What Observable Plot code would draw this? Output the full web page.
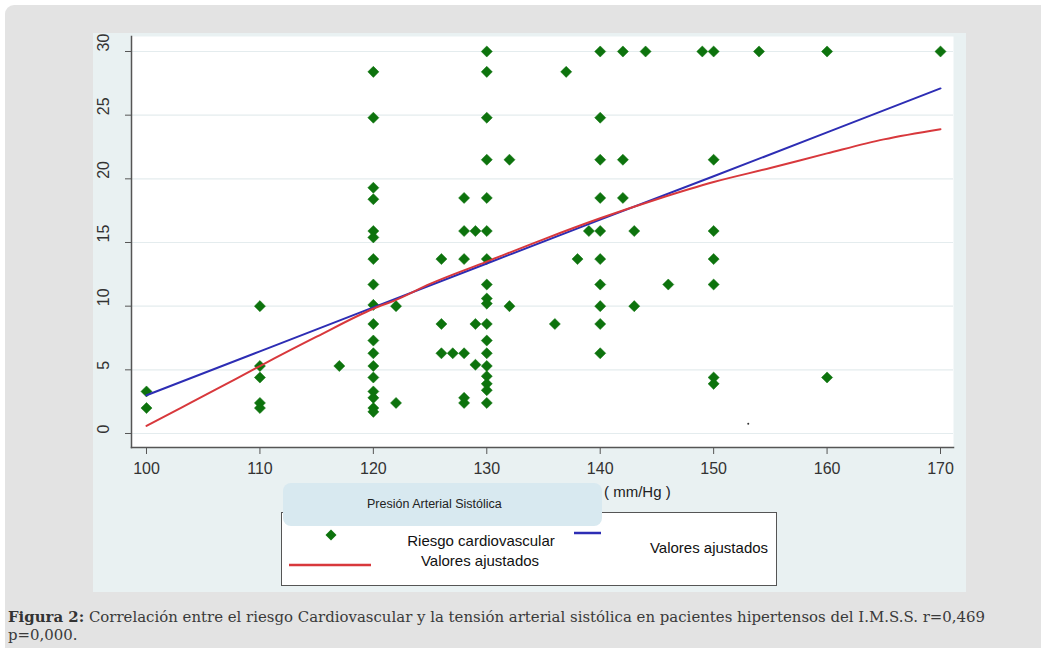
<!DOCTYPE html>
<html>
<head>
<meta charset="utf-8">
<script src="https://cdn.jsdelivr.net/npm/d3@7"></script>
<script src="https://cdn.jsdelivr.net/npm/@observablehq/plot@0.6"></script>
<style>
  html, body { margin: 0; padding: 0; }
  body { width: 1041px; height: 648px; overflow: hidden; background: #ffffff; position: relative;
         font-family: "Liberation Sans", Arial, sans-serif; }
  #page { position: absolute; left: 5px; top: 5px; width: 1060px; height: 670px; background: #e3e3e3; border-radius: 9px; }
  #chartbg { position: absolute; left: 93px; top: 33px; width: 873px; height: 559px; background: #e9f1f2; }
  #plot { position: absolute; left: 93px; top: 33px; }
  .abs { position: absolute; white-space: nowrap; color: #222; }
  #unit { left: 604px; top: 483px; font-size: 15px; color: #222; }
  #legbox { left: 281px; top: 512px; width: 494px; height: 72px; background: #fff; border: 1.5px solid #555; }
  #titlebox { left: 283px; top: 483px; width: 319px; height: 43px; background: #d8e9f0; border-radius: 8px; }
  #titletxt { left: 367px; top: 497px; font-size: 12.5px; color: #222; }
  .legtxt { font-size: 15px; color: #111; transform: translateX(-50%); }
  #caption { position: absolute; left: 8px; top: 608px; font-family: "DejaVu Serif", "Liberation Serif", serif;
             font-size: 15.5px; line-height: 18px; color: #3a3a3a; transform-origin: 0 0; white-space: nowrap; }
  #caption b { font-weight: bold; color: #333; }
</style>
</head>
<body>
<div id="page"></div>
<div id="chartbg"></div>
<div id="plot"></div>
<div class="abs" id="unit">( mm/Hg )</div>
<div class="abs" id="legbox"></div>
<div class="abs" id="titlebox"></div>
<div class="abs" id="titletxt">Presión Arterial Sistólica</div>
<svg class="abs" style="left:324px;top:528px" width="14" height="14"><path d="M7,1.5 L12.5,7 L7,12.5 L1.5,7 Z" fill="#0d730d"/></svg>
<div class="abs legtxt" style="left:481px;top:532px">Riesgo cardiovascular</div>
<div class="abs legtxt" style="left:480px;top:552px">Valores ajustados</div>
<svg class="abs" style="left:289px;top:562px" width="82" height="6"><line x1="0" y1="3" x2="82" y2="3" stroke="#d8383c" stroke-width="2.5"/></svg>
<svg class="abs" style="left:574px;top:530px" width="27" height="6"><line x1="0" y1="3" x2="27" y2="3" stroke="#2d2db4" stroke-width="2.5"/></svg>
<div class="abs legtxt" style="left:709px;top:539px">Valores ajustados</div>
<div id="caption"><div id="cap1"><b>Figura 2:</b> Correlación entre el riesgo Cardiovascular y la tensión arterial sistólica en pacientes hipertensos del I.M.S.S. r=0,469</div><div>p=0,000.</div></div>
<script>
// Presión arterial sistólica (mm/Hg) y riesgo cardiovascular por paciente
const presion = [
  100, 100,
  110, 110, 110, 110, 110,
  117,
  120, 120, 120, 120, 120, 120, 120, 120, 120, 120, 120, 120, 120, 120, 120, 120, 120, 120,
  122, 122,
  126, 126, 126,
  127,
  128, 128, 128, 128, 128, 128,
  129, 129, 129,
  130, 130, 130, 130, 130, 130, 130, 130, 130, 130, 130, 130, 130, 130, 130, 130, 130, 130,
  132, 132,
  136, 137, 138, 139,
  140, 140, 140, 140, 140, 140, 140, 140, 140, 140,
  142, 142, 142,
  143, 143,
  144, 146, 149,
  150, 150, 150, 150, 150, 150, 150,
  154, 160, 160, 170
];
const riesgo = [
  3.3, 2.0,
  10.0, 5.3, 4.4, 2.4, 2.0,
  5.3,
  28.4, 24.8, 19.3, 18.4, 15.9, 15.4, 13.7, 11.7, 10.1, 8.6, 7.3, 6.3, 5.3, 4.4, 3.3, 2.8, 2.0, 1.7,
  10.0, 2.4,
  13.7, 8.6, 6.3,
  6.3,
  18.5, 15.9, 13.7, 6.3, 2.8, 2.4,
  15.9, 8.6, 5.4,
  30, 28.4, 24.8, 21.5, 18.5, 15.9, 13.7, 11.7, 10.6, 10.2, 8.6, 7.3, 6.3, 5.3, 4.5, 3.9, 3.4, 2.4,
  21.5, 10.0,
  8.6, 28.4, 13.7, 15.9,
  30, 24.8, 21.5, 18.5, 15.9, 13.7, 11.7, 10.0, 8.6, 6.3,
  30, 21.5, 18.5,
  15.9, 10.0,
  30, 11.7, 30,
  30, 21.5, 15.9, 13.7, 11.7, 4.4, 3.9,
  30, 30, 4.4, 30
];
// Recta de regresión (valores ajustados, azul)
const linealX = [100, 110, 120, 130, 140, 150, 160, 170];
const linealY = [3.0, 6.45, 9.9, 13.35, 16.8, 20.2, 23.65, 27.1];
// Suavizado lowess (valores ajustados, rojo)
const lowessX = [100, 103, 106, 110, 115, 120, 122, 125, 130, 135, 140, 145, 150, 155, 160, 165, 170];
const lowessY = [0.6, 2.0, 3.4, 5.3, 7.6, 9.8, 10.5, 11.75, 13.5, 15.25, 16.9, 18.4, 19.75, 20.85, 22.0, 23.1, 23.9];
// Marca suelta visible en la figura
const marcaX = [153.05];
const marcaY = [0.76];
// Ticks
const xTicks = [100, 110, 120, 130, 140, 150, 160, 170];
const yTicks = [0, 5, 10, 15, 20, 25, 30];

const puntos = presion.map((p, i) => ({p, r: riesgo[i]}));
const lineal = linealX.map((p, i) => ({p, r: linealY[i]}));
const lowess = lowessX.map((p, i) => ({p, r: lowessY[i]}));
const marca = marcaX.map((p, i) => ({p, r: marcaY[i]}));

const chart = Plot.plot({
  width: 873,
  height: 454,
  marginLeft: 38,
  marginRight: 13,
  marginTop: 3,
  marginBottom: 40,
  x: {domain: [98.678, 171.146], label: null},
  y: {domain: [-1.0995, 31.178], label: null},
  style: {background: "transparent", fontFamily: "'Liberation Sans', Arial, sans-serif", color: "#333", overflow: "visible"},
  marks: [
    Plot.frame({fill: "white", stroke: null}),
    Plot.gridY(yTicks, {stroke: "#e4ecee", strokeOpacity: 1, strokeWidth: 1.2}),
    Plot.axisY(yTicks, {tickSize: 6, tickFormat: () => "", stroke: "#555", strokeWidth: 1, label: null}),
    Plot.text(yTicks, {y: d => d, text: d => String(d), frameAnchor: "left", dx: -28, rotate: -90, fontSize: 16, fill: "#333"}),
    Plot.axisX(xTicks, {tickSize: 7, tickPadding: 8, fontSize: 16, stroke: "#555", fill: "#333", label: null}),
    Plot.frame({anchor: "left", stroke: "#555", strokeWidth: 1.5}),
    Plot.frame({anchor: "bottom", stroke: "#555", strokeWidth: 1.5}),
    Plot.dot(puntos, {x: "p", y: "r", symbol: "diamond2", r: 5, fill: "#0d730d", stroke: "#0d730d", strokeWidth: 0.5}),
    Plot.dot(marca, {x: "p", y: "r", r: 1, fill: "#333", stroke: null}),
    Plot.line(lineal, {x: "p", y: "r", stroke: "#2d2db4", strokeWidth: 2}),
    Plot.line(lowess, {x: "p", y: "r", stroke: "#d8383c", strokeWidth: 2, curve: "monotone-x"})
  ]
});
document.getElementById("plot").appendChild(chart);

// ajustar el ancho del pie de figura
const cap = document.getElementById("caption");
const w = document.getElementById("cap1").getBoundingClientRect().width;
if (w > 0) cap.style.transform = `scaleX(${977 / w})`;
</script>
</body>
</html>
